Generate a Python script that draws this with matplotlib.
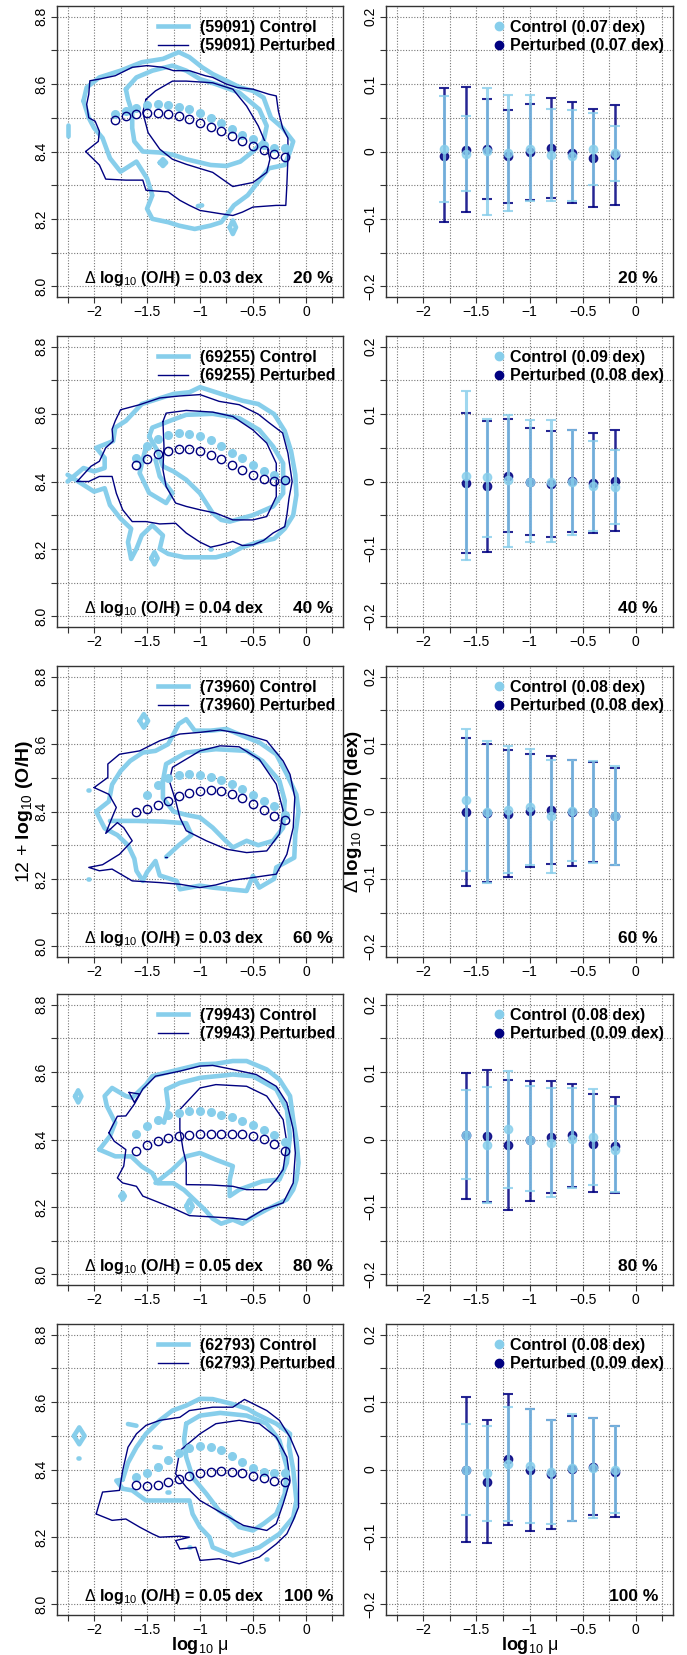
import matplotlib
matplotlib.use("Agg")
import matplotlib.pyplot as plt
from matplotlib.lines import Line2D

plt.rcParams["font.family"] = ["Liberation Sans", "DejaVu Sans"]
plt.rcParams["mathtext.fontset"] = "custom"
plt.rcParams["mathtext.rm"] = "Liberation Sans"
plt.rcParams["mathtext.bf"] = "Liberation Sans:bold"
plt.rcParams["mathtext.it"] = "Liberation Sans:italic"

CONTROL = "#87CEEB"
PERTURBED = "#000080"
FRAME = "#333333"

# ---------------------------------------------------------------- labels
galaxy_ids = ["59091", "69255", "73960", "79943", "62793"]
fractions = ["20 %", "40 %", "60 %", "80 %", "100 %"]
offset_dex = ["0.03", "0.04", "0.03", "0.05", "0.05"]
control_scatter = ["0.07", "0.09", "0.08", "0.08", "0.08"]
perturbed_scatter = ["0.07", "0.08", "0.08", "0.09", "0.09"]

# ---------------------------------------------------------------- median tracks (log10 mu, 12+log O/H)
mu_17 = [-1.8, -1.7, -1.6, -1.5, -1.4, -1.3, -1.2, -1.1, -1.0, -0.9, -0.8, -0.7, -0.6, -0.5, -0.4, -0.3, -0.2]
mu_15 = [-1.6, -1.5, -1.4, -1.3, -1.2, -1.1, -1.0, -0.9, -0.8, -0.7, -0.6, -0.5, -0.4, -0.3, -0.2]
mu_14 = [-1.5, -1.4, -1.3, -1.2, -1.1, -1.0, -0.9, -0.8, -0.7, -0.6, -0.5, -0.4, -0.3, -0.2]

ctrl_track_59091 = [8.51, 8.52, 8.53, 8.537, 8.54, 8.537, 8.533, 8.527, 8.515, 8.50, 8.484, 8.468, 8.45, 8.436, 8.42, 8.41, 8.41]
pert_track_59091 = [8.494, 8.504, 8.511, 8.514, 8.514, 8.511, 8.506, 8.496, 8.486, 8.474, 8.461, 8.446, 8.432, 8.417, 8.405, 8.392, 8.385]
ctrl_track_69255 = [8.47, 8.504, 8.527, 8.539, 8.544, 8.541, 8.534, 8.522, 8.504, 8.484, 8.47, 8.45, 8.432, 8.42, 8.405]
pert_track_69255 = [8.45, 8.467, 8.483, 8.492, 8.497, 8.496, 8.49, 8.479, 8.466, 8.45, 8.434, 8.419, 8.407, 8.401, 8.405]
ctrl_track_73960 = [8.45, 8.479, 8.499, 8.509, 8.511, 8.509, 8.503, 8.493, 8.481, 8.466, 8.45, 8.432, 8.415, 8.39]
pert_track_73960 = [8.40, 8.406, 8.418, 8.432, 8.446, 8.456, 8.462, 8.464, 8.461, 8.453, 8.44, 8.422, 8.404, 8.387, 8.375]
ctrl_track_79943 = [8.416, 8.439, 8.459, 8.472, 8.479, 8.484, 8.484, 8.481, 8.474, 8.467, 8.454, 8.442, 8.428, 8.412, 8.392]
pert_track_79943 = [8.365, 8.383, 8.396, 8.405, 8.411, 8.414, 8.416, 8.417, 8.417, 8.417, 8.415, 8.41, 8.401, 8.388, 8.367]
ctrl_track_62793 = [8.377, 8.389, 8.407, 8.429, 8.449, 8.464, 8.471, 8.468, 8.458, 8.441, 8.422, 8.405, 8.394, 8.39, 8.39]
pert_track_62793 = [8.354, 8.352, 8.355, 8.362, 8.372, 8.382, 8.389, 8.394, 8.395, 8.393, 8.389, 8.382, 8.375, 8.367, 8.364]

# ---------------------------------------------------------------- contour outlines (log10 mu, 12+log O/H)
ctrl_lines_59091 = [
    [(-2.10, 8.55), (-2.07, 8.59), (-1.95, 8.62), (-1.75, 8.64), (-1.55, 8.665), (-1.45, 8.67), (-1.35, 8.675),
     (-1.2, 8.695), (-1.1, 8.68), (-0.98, 8.65), (-0.88, 8.63), (-0.75, 8.61), (-0.62, 8.59), (-0.5, 8.58),
     (-0.4, 8.56), (-0.33, 8.50), (-0.22, 8.47), (-0.12, 8.43), (-0.15, 8.40), (-0.2, 8.36), (-0.35, 8.35),
     (-0.45, 8.31), (-0.55, 8.27), (-0.68, 8.24), (-0.75, 8.21), (-0.8, 8.19), (-0.9, 8.18), (-1.05, 8.17),
     (-1.2, 8.18), (-1.3, 8.19), (-1.45, 8.20), (-1.5, 8.23), (-1.45, 8.27), (-1.5, 8.32), (-1.6, 8.37),
     (-1.75, 8.34), (-1.85, 8.38), (-1.92, 8.44), (-2.0, 8.47), (-2.05, 8.50), (-2.10, 8.55)],
    [(-1.70, 8.585), (-1.6, 8.62), (-1.45, 8.64), (-1.26, 8.655), (-1.13, 8.64), (-1.0, 8.615), (-0.85, 8.60),
     (-0.63, 8.575), (-0.44, 8.525), (-0.37, 8.476), (-0.40, 8.43), (-0.5, 8.40), (-0.62, 8.37), (-0.75, 8.357),
     (-0.9, 8.36), (-1.13, 8.377), (-1.25, 8.39), (-1.38, 8.397), (-1.54, 8.40), (-1.62, 8.43), (-1.64, 8.47),
     (-1.64, 8.516), (-1.68, 8.555), (-1.70, 8.585)],
    [(-2.25, 8.445), (-2.25, 8.48)],
    [(-2.155, 8.40), (-2.148, 8.40)],
    [(-0.72, 8.175), (-0.69, 8.195), (-0.66, 8.175), (-0.69, 8.155), (-0.72, 8.175)],
    [(-1.02, 8.238), (-0.98, 8.24)],
    [(-1.38, 8.367), (-1.35, 8.377), (-1.32, 8.367), (-1.35, 8.357), (-1.38, 8.367)],
]
pert_lines_59091 = [
    [(-2.08, 8.40), (-1.96, 8.43), (-1.95, 8.46), (-1.99, 8.49), (-2.05, 8.50), (-2.07, 8.54), (-2.05, 8.57),
     (-2.04, 8.61), (-1.95, 8.615), (-1.8, 8.625), (-1.64, 8.65), (-1.5, 8.655), (-1.35, 8.65), (-1.25, 8.64),
     (-1.1, 8.64), (-0.95, 8.625), (-0.88, 8.62), (-0.75, 8.60), (-0.65, 8.59), (-0.5, 8.585), (-0.35, 8.57),
     (-0.28, 8.565), (-0.26, 8.52), (-0.22, 8.47), (-0.17, 8.44), (-0.17, 8.38), (-0.18, 8.30), (-0.19, 8.24),
     (-0.28, 8.24), (-0.5, 8.235), (-0.6, 8.22), (-0.69, 8.21), (-0.8, 8.215), (-1.0, 8.225), (-1.1, 8.24),
     (-1.19, 8.255), (-1.3, 8.28), (-1.51, 8.285), (-1.54, 8.315), (-1.7, 8.315), (-1.89, 8.318), (-1.95, 8.36),
     (-2.08, 8.40)],
    [(-1.51, 8.555), (-1.54, 8.516), (-1.49, 8.456), (-1.38, 8.407), (-1.26, 8.377), (-1.13, 8.362), (-0.88, 8.338),
     (-0.69, 8.296), (-0.5, 8.308), (-0.37, 8.338), (-0.34, 8.377), (-0.37, 8.417), (-0.45, 8.476), (-0.56, 8.535),
     (-0.69, 8.585), (-0.88, 8.604), (-1.13, 8.609), (-1.26, 8.609), (-1.42, 8.58), (-1.51, 8.555)],
    [(-1.945, 8.168), (-1.94, 8.168)],
]

ctrl_lines_69255 = [
    [(-2.25, 8.42), (-2.1, 8.39), (-2.0, 8.37), (-1.9, 8.38), (-1.85, 8.33), (-1.75, 8.29), (-1.65, 8.26),
     (-1.68, 8.22), (-1.65, 8.17), (-1.6, 8.20), (-1.55, 8.24), (-1.45, 8.27), (-1.35, 8.24), (-1.38, 8.20),
     (-1.3, 8.185), (-1.15, 8.175), (-1.0, 8.175), (-0.85, 8.175), (-0.72, 8.185), (-0.6, 8.205), (-0.45, 8.22),
     (-0.3, 8.23), (-0.2, 8.26), (-0.12, 8.30), (-0.09, 8.36), (-0.1, 8.42), (-0.14, 8.49), (-0.2, 8.55),
     (-0.3, 8.60), (-0.45, 8.63), (-0.6, 8.64), (-0.75, 8.655), (-0.9, 8.67), (-1.0, 8.68), (-1.1, 8.665),
     (-1.25, 8.66), (-1.4, 8.645), (-1.55, 8.63), (-1.7, 8.58), (-1.8, 8.56), (-1.82, 8.52), (-1.98, 8.50),
     (-1.9, 8.47), (-1.9, 8.44), (-2.0, 8.43), (-2.1, 8.44), (-2.25, 8.40)],
    [(-1.48, 8.534), (-1.45, 8.56), (-1.26, 8.583), (-1.13, 8.598), (-0.88, 8.601), (-0.63, 8.588), (-0.44, 8.553),
     (-0.31, 8.504), (-0.215, 8.454), (-0.215, 8.365), (-0.31, 8.326), (-0.5, 8.30), (-0.72, 8.281), (-0.8, 8.286),
     (-0.88, 8.306), (-1.0, 8.365), (-1.13, 8.405), (-1.25, 8.43), (-1.35, 8.445), (-1.40, 8.49), (-1.48, 8.534)],
    [(-1.51, 8.504), (-1.57, 8.425), (-1.48, 8.366), (-1.32, 8.336), (-1.26, 8.366), (-1.38, 8.415), (-1.42, 8.464)],
    [(-1.46, 8.172), (-1.43, 8.19), (-1.40, 8.172), (-1.43, 8.154), (-1.46, 8.172)],
    [(-0.905, 8.20), (-0.895, 8.20)],
]
pert_lines_69255 = [
    [(-2.16, 8.40), (-2.03, 8.445), (-1.95, 8.46), (-1.89, 8.50), (-1.82, 8.52), (-1.83, 8.555), (-1.80, 8.58),
     (-1.75, 8.613), (-1.57, 8.628), (-1.38, 8.648), (-1.19, 8.654), (-1.0, 8.658), (-0.82, 8.638), (-0.63, 8.628),
     (-0.45, 8.60), (-0.35, 8.575), (-0.22, 8.544), (-0.17, 8.484), (-0.13, 8.40), (-0.16, 8.35), (-0.18, 8.30),
     (-0.2, 8.266), (-0.31, 8.247), (-0.4, 8.225), (-0.5, 8.212), (-0.6, 8.21), (-0.69, 8.222), (-0.8, 8.212),
     (-0.9, 8.205), (-1.0, 8.22), (-1.13, 8.247), (-1.23, 8.276), (-1.38, 8.274), (-1.51, 8.281), (-1.64, 8.281),
     (-1.73, 8.316), (-1.79, 8.365), (-1.83, 8.415), (-1.95, 8.415), (-2.05, 8.40), (-2.16, 8.40)],
    [(-1.35, 8.578), (-1.32, 8.603), (-1.13, 8.611), (-0.88, 8.606), (-0.69, 8.593), (-0.5, 8.553), (-0.37, 8.514),
     (-0.28, 8.454), (-0.28, 8.355), (-0.37, 8.296), (-0.5, 8.286), (-0.69, 8.286), (-0.85, 8.306), (-1.0, 8.316),
     (-1.13, 8.326), (-1.23, 8.336), (-1.32, 8.385), (-1.35, 8.435), (-1.34, 8.504), (-1.35, 8.578)],
]

ctrl_lines_73960 = [
    [(-1.98, 8.40), (-1.86, 8.43), (-1.83, 8.48), (-1.75, 8.52), (-1.66, 8.55), (-1.54, 8.575), (-1.42, 8.58),
     (-1.3, 8.60), (-1.2, 8.66), (-1.13, 8.674), (-1.05, 8.64), (-0.9, 8.64), (-0.75, 8.645), (-0.6, 8.625),
     (-0.44, 8.605), (-0.28, 8.57), (-0.18, 8.51), (-0.09, 8.45), (-0.07, 8.40), (-0.1, 8.333), (-0.11, 8.263),
     (-0.28, 8.234), (-0.3, 8.20), (-0.44, 8.174), (-0.5, 8.209), (-0.56, 8.164), (-0.75, 8.17), (-0.88, 8.174),
     (-1.0, 8.18), (-1.19, 8.169), (-1.22, 8.194), (-1.38, 8.21), (-1.42, 8.253), (-1.5, 8.22), (-1.54, 8.194),
     (-1.6, 8.224), (-1.62, 8.26), (-1.68, 8.30), (-1.78, 8.33), (-1.9, 8.35), (-1.98, 8.40)],
    [(-1.35, 8.491), (-1.32, 8.541), (-1.13, 8.575), (-0.85, 8.585), (-0.56, 8.58), (-0.41, 8.55), (-0.25, 8.491),
     (-0.2, 8.432), (-0.215, 8.352), (-0.31, 8.313), (-0.45, 8.30), (-0.56, 8.313), (-0.69, 8.293), (-0.78, 8.32),
     (-0.88, 8.352), (-1.0, 8.382), (-1.13, 8.39), (-1.25, 8.40), (-1.35, 8.44), (-1.35, 8.491)],
    [(-1.85, 8.372), (-1.6, 8.372), (-1.35, 8.37), (-1.13, 8.365), (-1.08, 8.33), (-1.2, 8.30), (-1.32, 8.265)],
    [(-1.57, 8.669), (-1.53, 8.689), (-1.49, 8.669), (-1.53, 8.649), (-1.57, 8.669)],
    [(-2.055, 8.464), (-2.045, 8.464)],
    [(-2.055, 8.199), (-2.045, 8.199)],
]
pert_lines_73960 = [
    [(-2.0, 8.471), (-1.87, 8.501), (-1.87, 8.541), (-1.76, 8.57), (-1.57, 8.58), (-1.38, 8.61), (-1.19, 8.63),
     (-1.0, 8.635), (-0.81, 8.642), (-0.59, 8.63), (-0.37, 8.61), (-0.215, 8.55), (-0.15, 8.51), (-0.105, 8.442),
     (-0.12, 8.352), (-0.18, 8.273), (-0.28, 8.214), (-0.5, 8.204), (-0.69, 8.196), (-0.85, 8.182), (-1.0, 8.174),
     (-1.19, 8.184), (-1.38, 8.189), (-1.64, 8.194), (-1.83, 8.229), (-1.95, 8.224), (-2.05, 8.234), (-1.92, 8.242),
     (-1.76, 8.273), (-1.64, 8.313), (-1.72, 8.352), (-1.78, 8.367), (-1.89, 8.335), (-1.83, 8.382), (-1.79, 8.412),
     (-1.86, 8.451), (-2.0, 8.471)],
    [(-1.29, 8.491), (-1.26, 8.531), (-1.0, 8.58), (-0.81, 8.595), (-0.63, 8.592), (-0.44, 8.555), (-0.28, 8.481),
     (-0.215, 8.402), (-0.25, 8.333), (-0.37, 8.283), (-0.56, 8.278), (-0.75, 8.288), (-0.94, 8.313), (-1.13, 8.343),
     (-1.19, 8.382), (-1.23, 8.432), (-1.29, 8.491)],
    [(-1.33, 8.265), (-1.31, 8.265)],
]

ctrl_lines_79943 = [
    [(-1.95, 8.37), (-1.85, 8.41), (-1.8, 8.45), (-1.88, 8.50), (-1.9, 8.529), (-1.83, 8.553), (-1.70, 8.529),
     (-1.64, 8.524), (-1.51, 8.563), (-1.45, 8.588), (-1.3, 8.60), (-1.13, 8.613), (-1.0, 8.623), (-0.85, 8.625),
     (-0.69, 8.633), (-0.56, 8.633), (-0.37, 8.608), (-0.25, 8.578), (-0.15, 8.529), (-0.12, 8.459), (-0.09, 8.40),
     (-0.07, 8.331), (-0.09, 8.28), (-0.12, 8.251), (-0.18, 8.222), (-0.37, 8.192), (-0.5, 8.17), (-0.6, 8.15),
     (-0.69, 8.162), (-0.8, 8.15), (-0.88, 8.165), (-0.95, 8.19), (-1.05, 8.22), (-1.15, 8.25), (-1.25, 8.27),
     (-1.4, 8.27), (-1.45, 8.30), (-1.55, 8.32), (-1.65, 8.35), (-1.8, 8.35), (-1.95, 8.37)],
    [(-1.32, 8.549), (-1.19, 8.568), (-1.0, 8.583), (-0.69, 8.593), (-0.5, 8.588), (-0.28, 8.549), (-0.18, 8.489),
     (-0.15, 8.41), (-0.18, 8.331), (-0.25, 8.281), (-0.41, 8.276), (-0.63, 8.251), (-0.72, 8.232), (-0.72, 8.28),
     (-0.69, 8.321), (-0.85, 8.34), (-1.0, 8.36), (-1.13, 8.35), (-1.26, 8.311), (-1.42, 8.271)],
    [(-1.34, 8.45), (-1.30, 8.50), (-1.32, 8.549)],
    [(-2.18, 8.528), (-2.15, 8.546), (-2.12, 8.528), (-2.15, 8.51), (-2.18, 8.528)],
    [(-1.75, 8.232), (-1.73, 8.242), (-1.71, 8.232), (-1.73, 8.222), (-1.75, 8.232)],
    [(-1.13, 8.202), (-1.10, 8.22), (-1.07, 8.202), (-1.10, 8.184), (-1.13, 8.202)],
]
pert_lines_79943 = [
    [(-1.86, 8.42), (-1.78, 8.469), (-1.70, 8.47), (-1.62, 8.505), (-1.54, 8.55), (-1.42, 8.588), (-1.19, 8.603),
     (-1.0, 8.618), (-0.88, 8.62), (-0.69, 8.608), (-0.47, 8.593), (-0.28, 8.558), (-0.18, 8.509), (-0.12, 8.43),
     (-0.1, 8.36), (-0.12, 8.271), (-0.215, 8.212), (-0.4, 8.192), (-0.56, 8.162), (-0.72, 8.167), (-0.88, 8.17),
     (-1.1, 8.174), (-1.26, 8.197), (-1.38, 8.212), (-1.54, 8.232), (-1.6, 8.261), (-1.73, 8.271), (-1.78, 8.286),
     (-1.72, 8.321), (-1.70, 8.37), (-1.81, 8.395), (-1.86, 8.42)],
    [(-1.19, 8.489), (-1.0, 8.553), (-0.85, 8.563), (-0.56, 8.558), (-0.37, 8.529), (-0.215, 8.459), (-0.18, 8.39),
     (-0.215, 8.311), (-0.28, 8.281), (-0.37, 8.251), (-0.56, 8.251), (-0.69, 8.261), (-0.9, 8.265), (-1.13, 8.266),
     (-1.13, 8.331), (-1.16, 8.37), (-1.19, 8.43), (-1.19, 8.489)],
    [(-1.67, 8.54), (-1.57, 8.535), (-1.62, 8.51), (-1.67, 8.54)],
]

ctrl_lines_62793 = [
    [(-1.73, 8.37), (-1.68, 8.42), (-1.6, 8.466), (-1.51, 8.506), (-1.38, 8.546), (-1.26, 8.575), (-1.13, 8.59),
     (-1.0, 8.61), (-0.88, 8.609), (-0.7, 8.595), (-0.55, 8.58), (-0.47, 8.565), (-0.28, 8.536), (-0.15, 8.506),
     (-0.16, 8.47), (-0.12, 8.40), (-0.09, 8.308), (-0.12, 8.258), (-0.25, 8.209), (-0.44, 8.169), (-0.69, 8.145),
     (-0.88, 8.169), (-0.91, 8.199), (-1.0, 8.229), (-1.07, 8.268), (-1.1, 8.308), (-1.32, 8.308), (-1.51, 8.308),
     (-1.64, 8.338), (-1.73, 8.343), (-1.79, 8.367), (-1.73, 8.37)],
    [(-1.13, 8.536), (-1.0, 8.56), (-0.81, 8.568), (-0.56, 8.56), (-0.37, 8.536), (-0.25, 8.486), (-0.18, 8.407),
     (-0.2, 8.328), (-0.28, 8.268), (-0.4, 8.239), (-0.5, 8.219), (-0.63, 8.229), (-0.72, 8.258), (-0.82, 8.278),
     (-0.94, 8.328), (-1.07, 8.377), (-1.13, 8.437), (-1.15, 8.49), (-1.13, 8.536)],
    [(-2.19, 8.50), (-2.14, 8.525), (-2.09, 8.50), (-2.14, 8.475), (-2.19, 8.50)],
    [(-2.155, 8.434), (-2.145, 8.434)],
    [(-1.68, 8.535), (-1.6, 8.53)],
    [(-1.43, 8.467), (-1.37, 8.465)],
    [(-1.31, 8.333), (-1.29, 8.333)],
    [(-1.105, 8.169), (-1.095, 8.169)],
    [(-0.375, 8.135), (-0.365, 8.135)],
]
pert_lines_62793 = [
    [(-1.98, 8.268), (-1.92, 8.333), (-1.76, 8.338), (-1.73, 8.397), (-1.68, 8.466), (-1.6, 8.506), (-1.51, 8.531),
     (-1.38, 8.546), (-1.19, 8.555), (-1.1, 8.575), (-0.88, 8.585), (-0.69, 8.585), (-0.58, 8.608), (-0.37, 8.575),
     (-0.25, 8.546), (-0.15, 8.496), (-0.07, 8.437), (-0.07, 8.348), (-0.07, 8.288), (-0.12, 8.249), (-0.18, 8.209),
     (-0.28, 8.179), (-0.44, 8.14), (-0.63, 8.12), (-0.82, 8.135), (-1.0, 8.13), (-1.04, 8.169), (-1.19, 8.164),
     (-1.23, 8.189), (-1.1, 8.199), (-1.19, 8.202), (-1.38, 8.199), (-1.45, 8.209), (-1.57, 8.229), (-1.7, 8.253),
     (-1.83, 8.249), (-1.98, 8.268)],
    [(-1.19, 8.456), (-1.0, 8.506), (-0.85, 8.536), (-0.63, 8.546), (-0.44, 8.536), (-0.28, 8.496), (-0.18, 8.437),
     (-0.15, 8.367), (-0.215, 8.298), (-0.28, 8.239), (-0.37, 8.219), (-0.59, 8.234), (-0.78, 8.268), (-1.0, 8.308),
     (-1.13, 8.348), (-1.23, 8.387), (-1.19, 8.456)],
]

# ---------------------------------------------------------------- residual profiles (right column)
bins_9 = [-1.8, -1.6, -1.4, -1.2, -1.0, -0.8, -0.6, -0.4, -0.2]
bins_8 = [-1.6, -1.4, -1.2, -1.0, -0.8, -0.6, -0.4, -0.2]

ctrl_mean_59091 = [0.004, -0.003, 0.001, -0.002, 0.004, -0.005, -0.006, 0.003, -0.002]
ctrl_hi_59091 = [0.083, 0.052, 0.095, 0.084, 0.084, 0.063, 0.061, 0.057, 0.038]
ctrl_lo_59091 = [-0.075, -0.059, -0.094, -0.088, -0.073, -0.073, -0.074, -0.050, -0.044]
pert_mean_59091 = [-0.006, 0.002, 0.003, -0.007, -0.001, 0.005, -0.002, -0.010, -0.005]
pert_hi_59091 = [0.094, 0.096, 0.078, 0.061, 0.070, 0.079, 0.073, 0.063, 0.069]
pert_lo_59091 = [-0.105, -0.090, -0.071, -0.076, -0.072, -0.069, -0.076, -0.083, -0.080]

ctrl_mean_69255 = [0.008, 0.006, 0.002, 0.000, -0.001, -0.001, -0.006, -0.008]
ctrl_hi_69255 = [0.134, 0.093, 0.099, 0.091, 0.091, 0.077, 0.060, 0.047]
ctrl_lo_69255 = [-0.116, -0.082, -0.097, -0.090, -0.090, -0.079, -0.073, -0.063]
pert_mean_69255 = [-0.002, -0.007, 0.008, -0.001, -0.003, 0.001, -0.002, 0.001]
pert_hi_69255 = [0.101, 0.090, 0.093, 0.079, 0.075, 0.077, 0.072, 0.077]
pert_lo_69255 = [-0.106, -0.104, -0.075, -0.080, -0.082, -0.075, -0.077, -0.074]

ctrl_mean_73960 = [0.017, -0.001, 0.002, 0.007, -0.007, 0.001, -0.001, -0.006]
ctrl_hi_73960 = [0.123, 0.105, 0.097, 0.093, 0.077, 0.077, 0.075, 0.068]
ctrl_lo_73960 = [-0.088, -0.106, -0.092, -0.079, -0.091, -0.073, -0.076, -0.079]
pert_mean_73960 = [-0.001, -0.002, -0.004, 0.001, 0.002, 0.000, -0.001, -0.006]
pert_hi_73960 = [0.109, 0.100, 0.091, 0.085, 0.082, 0.077, 0.074, 0.064]
pert_lo_73960 = [-0.111, -0.105, -0.097, -0.083, -0.078, -0.081, -0.075, -0.079]

ctrl_mean_79943 = [0.007, -0.008, 0.015, 0.000, -0.005, 0.001, 0.003, -0.015]
ctrl_hi_79943 = [0.074, 0.078, 0.101, 0.079, 0.077, 0.076, 0.075, 0.050]
ctrl_lo_79943 = [-0.059, -0.094, -0.072, -0.077, -0.086, -0.072, -0.068, -0.078]
pert_mean_79943 = [0.006, 0.005, -0.008, -0.001, 0.003, 0.006, -0.006, -0.009]
pert_hi_79943 = [0.099, 0.103, 0.088, 0.087, 0.087, 0.082, 0.067, 0.063]
pert_lo_79943 = [-0.089, -0.093, -0.104, -0.091, -0.079, -0.070, -0.078, -0.080]

ctrl_mean_62793 = [0.000, -0.005, 0.008, 0.005, -0.004, 0.002, 0.002, 0.000]
ctrl_hi_62793 = [0.068, 0.065, 0.093, 0.090, 0.074, 0.082, 0.076, 0.064]
ctrl_lo_62793 = [-0.067, -0.076, -0.077, -0.079, -0.081, -0.077, -0.072, -0.064]
pert_mean_62793 = [0.000, -0.018, 0.015, -0.001, -0.007, 0.001, 0.004, -0.003]
pert_hi_62793 = [0.107, 0.074, 0.112, 0.090, 0.074, 0.079, 0.076, 0.064]
pert_lo_62793 = [-0.107, -0.109, -0.082, -0.091, -0.089, -0.077, -0.068, -0.071]

# ---------------------------------------------------------------- axes ticks
x_ticks = [-2.25, -2.0, -1.75, -1.5, -1.25, -1.0, -0.75, -0.5, -0.25, 0.0, 0.25]
oh_ticks = [8.0, 8.1, 8.2, 8.3, 8.4, 8.5, 8.6, 8.7, 8.8]
res_ticks = [-0.2, -0.15, -0.1, -0.05, 0.0, 0.05, 0.1, 0.15, 0.2]

panels = [
    dict(ctrl_lines=ctrl_lines_59091, pert_lines=pert_lines_59091,
         ctrl_mu=mu_17, ctrl_track=ctrl_track_59091, pert_mu=mu_17, pert_track=pert_track_59091,
         bins=bins_9, cm=ctrl_mean_59091, ch=ctrl_hi_59091, cl=ctrl_lo_59091,
         pm=pert_mean_59091, ph=pert_hi_59091, pl=pert_lo_59091),
    dict(ctrl_lines=ctrl_lines_69255, pert_lines=pert_lines_69255,
         ctrl_mu=mu_15, ctrl_track=ctrl_track_69255, pert_mu=mu_15, pert_track=pert_track_69255,
         bins=bins_8, cm=ctrl_mean_69255, ch=ctrl_hi_69255, cl=ctrl_lo_69255,
         pm=pert_mean_69255, ph=pert_hi_69255, pl=pert_lo_69255),
    dict(ctrl_lines=ctrl_lines_73960, pert_lines=pert_lines_73960,
         ctrl_mu=mu_14, ctrl_track=ctrl_track_73960, pert_mu=mu_15, pert_track=pert_track_73960,
         bins=bins_8, cm=ctrl_mean_73960, ch=ctrl_hi_73960, cl=ctrl_lo_73960,
         pm=pert_mean_73960, ph=pert_hi_73960, pl=pert_lo_73960),
    dict(ctrl_lines=ctrl_lines_79943, pert_lines=pert_lines_79943,
         ctrl_mu=mu_15, ctrl_track=ctrl_track_79943, pert_mu=mu_15, pert_track=pert_track_79943,
         bins=bins_8, cm=ctrl_mean_79943, ch=ctrl_hi_79943, cl=ctrl_lo_79943,
         pm=pert_mean_79943, ph=pert_hi_79943, pl=pert_lo_79943),
    dict(ctrl_lines=ctrl_lines_62793, pert_lines=pert_lines_62793,
         ctrl_mu=mu_15, ctrl_track=ctrl_track_62793, pert_mu=mu_15, pert_track=pert_track_62793,
         bins=bins_8, cm=ctrl_mean_62793, ch=ctrl_hi_62793, cl=ctrl_lo_62793,
         pm=pert_mean_62793, ph=pert_hi_62793, pl=pert_lo_62793),
]


def tick_text(value, step, fmt):
    if abs(value / step - round(value / step)) > 1e-6:
        return ""
    return fmt.format(value).replace("-", "\u2212")


def style_axes(ax, yticks, ylim, ystep, yfmt):
    ax.set_xlim(-2.35, 0.35)
    ax.set_ylim(*ylim)
    ax.set_xticks(x_ticks)
    ax.set_xticklabels([tick_text(v, 0.5, "{:g}") for v in x_ticks])
    ax.set_yticks(yticks)
    ax.set_yticklabels([tick_text(round(v, 3), ystep, yfmt) for v in yticks],
                       rotation=90, va="center")
    ax.tick_params(direction="out", length=4, width=0.8, color=FRAME,
                   labelsize=10, labelcolor="black", pad=2)
    ax.tick_params(axis="x", pad=1.5)
    ax.grid(True, linestyle=(0, (1, 1.5)), color="#777777", linewidth=0.8)
    ax.set_axisbelow(True)
    for spine in ax.spines.values():
        spine.set_color(FRAME)
        spine.set_linewidth(1.0)


W, H = 687, 1655
fig = plt.figure(figsize=(W / 100, H / 100), dpi=100)

row_tops = [6, 336, 666, 994, 1324]
ax_h = 291

for i, p in enumerate(panels):
    bottom = 1 - (row_tops[i] + ax_h) / H
    axl = fig.add_axes([57 / W, bottom, 286 / W, ax_h / H])
    axr = fig.add_axes([386 / W, bottom, 287 / W, ax_h / H])

    # --- left: contour outlines + median tracks
    style_axes(axl, oh_ticks, (7.968, 8.832), 0.2, "{:.1f}")
    for line in p["ctrl_lines"]:
        xs, ys = zip(*line)
        axl.plot(xs, ys, color=CONTROL, lw=3.3, solid_joinstyle="round",
                 solid_capstyle="round", zorder=2)
    for line in p["pert_lines"]:
        xs, ys = zip(*line)
        axl.plot(xs, ys, color=PERTURBED, lw=1.0, solid_joinstyle="round",
                 solid_capstyle="round", zorder=3)
    axl.plot(p["ctrl_mu"], p["ctrl_track"], "o", color=CONTROL, ms=5.5,
             mec=CONTROL, zorder=4)
    axl.plot(p["pert_mu"], p["pert_track"], "o", mfc="none", mec=PERTURBED,
             mew=1.0, ms=6, zorder=5)

    handles = [Line2D([], [], color=CONTROL, lw=3.3),
               Line2D([], [], color=PERTURBED, lw=1.0)]
    axl.legend(handles, [f"({galaxy_ids[i]}) Control", f"({galaxy_ids[i]}) Perturbed"],
               loc="upper right", bbox_to_anchor=(1 - 8 / 286, 1 - 14 / 291),
               frameon=False, prop=dict(size=11.5, weight="bold"),
               handlelength=1.9, handletextpad=0.7, labelspacing=0.2,
               borderpad=0.0, borderaxespad=0.0)

    axl.text(0.41, 0.065,
             r"$\Delta\ \mathbf{log}_{10}\ \mathbf{(O/H)\,=\,"
             + offset_dex[i] + r"\ dex}$",
             transform=axl.transAxes, ha="center", va="center", fontsize=11.5)
    axl.text(0.965, 0.065, fractions[i], transform=axl.transAxes, ha="right",
             va="center", fontsize=12.5, fontweight="bold")

    # --- right: residual profiles
    style_axes(axr, res_ticks, (-0.216, 0.216), 0.1, "{:g}")
    pm, ph, pl = p["pm"], p["ph"], p["pl"]
    cm, ch, cl = p["cm"], p["ch"], p["cl"]
    axr.errorbar(p["bins"], pm, yerr=[[m - lo for m, lo in zip(pm, pl)],
                                      [hi - m for m, hi in zip(pm, ph)]],
                 fmt="o", color=PERTURBED, ms=6, elinewidth=1.8, capsize=3.3,
                 capthick=1.5, alpha=0.85, zorder=3)
    axr.errorbar(p["bins"], cm, yerr=[[m - lo for m, lo in zip(cm, cl)],
                                      [hi - m for m, hi in zip(cm, ch)]],
                 fmt="o", color=CONTROL, ms=6, elinewidth=2.2, capsize=3.3,
                 capthick=1.5, alpha=0.8, zorder=4)

    handles = [Line2D([], [], ls="none", marker="o", color=CONTROL, ms=6),
               Line2D([], [], ls="none", marker="o", color=PERTURBED, ms=6)]
    axr.legend(handles, [f"Control ({control_scatter[i]} dex)",
                         f"Perturbed ({perturbed_scatter[i]} dex)"],
               loc="upper right", bbox_to_anchor=(1 - 9 / 287, 1 - 14 / 291),
               frameon=False, prop=dict(size=11.5, weight="bold"),
               handlelength=0.6, handletextpad=0.4, labelspacing=0.2,
               borderpad=0.0, borderaxespad=0.0)
    axr.text(0.948, 0.065, fractions[i], transform=axr.transAxes, ha="right",
             va="center", fontsize=12.5, fontweight="bold")

# axis titles, placed in figure pixels
fig.text(25 / W, 1 - 811 / H, r"12 + $\mathbf{log}_{10}\ \mathbf{(O/H)}$",
         rotation=90, ha="center", va="center", fontsize=14)
fig.text(353 / W, 1 - 811 / H, r"$\Delta\ \mathbf{log}_{10}\ \mathbf{(O/H)\ (dex)}$",
         rotation=90, ha="center", va="center", fontsize=13.5)
fig.text(200 / W, 1 - 1646 / H, r"$\mathbf{log}_{10}$ μ",
         ha="center", va="center", fontsize=13)
fig.text(530 / W, 1 - 1646 / H, r"$\mathbf{log}_{10}$ μ",
         ha="center", va="center", fontsize=13)

fig.savefig("out.png", dpi=100)
